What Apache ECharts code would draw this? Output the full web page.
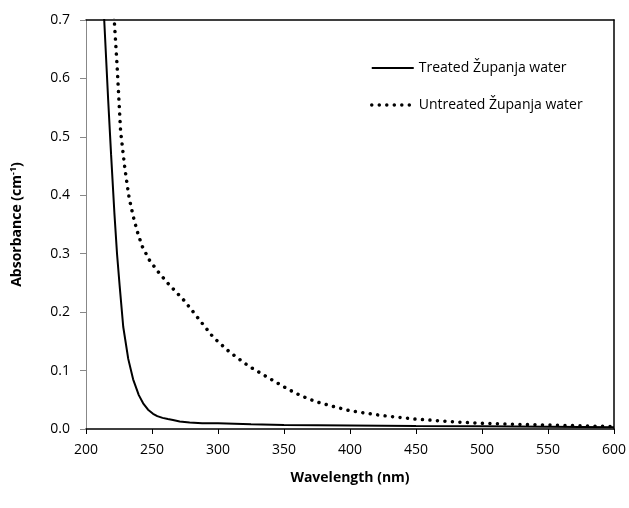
<!DOCTYPE html>
<html>
<head>
<meta charset="utf-8">
<script src="https://cdn.jsdelivr.net/npm/echarts@6/dist/echarts.min.js"></script>
<style>
html,body{margin:0;padding:0;background:#fff;}
#chart{width:629px;height:508px;}
</style>
</head>
<body>
<div id="chart"></div>
<script>
var seriesNames = ['Treated Županja water', 'Untreated Županja water'];
var treatedWl = [212, 213.8, 216.8, 219, 221.5, 223.5, 225.5, 228.2, 232, 235.7, 240, 243.3, 247, 250.8, 254, 258, 262, 265.9, 271, 278.5, 288, 300, 325, 350, 400, 450, 500, 550, 600];
var treatedAbs = [0.78, 0.70, 0.563, 0.47, 0.37, 0.30, 0.245, 0.175, 0.12, 0.085, 0.058, 0.044, 0.033, 0.026, 0.022, 0.019, 0.017, 0.0154, 0.013, 0.011, 0.010, 0.0097, 0.008, 0.0068, 0.006, 0.005, 0.0045, 0.004, 0.003];
var untreatedWl = [219.5, 221.4, 223.6, 226.2, 229.5, 232.7, 236, 239, 242.5, 248.3, 255, 262.6, 274.7, 285.5, 296.4, 309.2, 323, 337.9, 353.2, 362.8, 374, 390, 400.5, 424.4, 449.6, 477.2, 500, 525, 550, 575, 600];
var untreatedAbs = [0.77, 0.70, 0.62, 0.51, 0.445, 0.395, 0.362, 0.337, 0.313, 0.288, 0.268, 0.248, 0.219, 0.188, 0.157, 0.131, 0.108, 0.088, 0.068, 0.057, 0.047, 0.037, 0.031, 0.023, 0.017, 0.0125, 0.0097, 0.008, 0.0068, 0.0055, 0.004];
var xTicks = [200, 250, 300, 350, 400, 450, 500, 550, 600];
var yTicks = [0.0, 0.1, 0.2, 0.3, 0.4, 0.5, 0.6, 0.7];

function pairs(xs, ys){ return xs.map(function(x,i){ return [x, ys[i]]; }); }

var FONT = '"Open Sans", sans-serif';
var chart = echarts.init(document.getElementById('chart'), null, {renderer:'canvas'});
chart.setOption({
  animation:false,
  backgroundColor:'#fff',
  textStyle:{fontFamily:FONT},
  grid:{left:86, right:13, top:20, bottom:79, containLabel:false},
  legend:{
    show:true,
    orient:'vertical', left:365, top:56, itemWidth:42, itemHeight:12, itemGap:23,
    itemStyle:{opacity:0},
    textStyle:{fontFamily:FONT, fontSize:14, color:'#000'},
    data:[
      {name:seriesNames[0], lineStyle:{width:2, color:'#000'}},
      {name:seriesNames[1], lineStyle:{width:3.5, color:'#000', type:[0.01, 7.5], cap:'round'}}
    ]
  },
  xAxis:[{
    type:'value', min:xTicks[0], max:xTicks[xTicks.length-1], interval:50,
    name:'Wavelength (nm)', nameLocation:'middle', nameGap:42,
    nameTextStyle:{fontFamily:FONT, fontSize:14, fontWeight:'bold', color:'#000'},
    axisLine:{onZero:false, lineStyle:{color:'#000', width:1.5}},
    axisTick:{show:true, length:5, lineStyle:{color:'#000'}},
    axisLabel:{fontFamily:FONT, fontSize:14, color:'#000', margin:14},
    splitLine:{show:false}
  },{
    type:'value', position:'top', min:200, max:600,
    axisLine:{show:true, onZero:false, lineStyle:{color:'#000', width:1.5}},
    axisTick:{show:false}, axisLabel:{show:false}, splitLine:{show:false}
  }],
  yAxis:[{
    type:'value', min:yTicks[0], max:yTicks[yTicks.length-1], interval:0.1,
    name:'{b|Absorbance (cm}{s|-1}{b|)}', nameLocation:'middle', nameGap:60,
    nameTextStyle:{rich:{
      b:{fontFamily:FONT, fontSize:14, fontWeight:'bold', color:'#000'},
      s:{fontFamily:FONT, fontSize:9, fontWeight:'bold', color:'#000', verticalAlign:'top', padding:[0,0,8,0]}
    }},
    axisLine:{show:true, onZero:false, lineStyle:{color:'#888', width:1}},
    axisTick:{show:true, length:6, lineStyle:{color:'#888'}},
    axisLabel:{fontFamily:FONT, fontSize:14, color:'#000', margin:16, formatter:function(v){return v.toFixed(1);}},
    splitLine:{show:false}
  },{
    type:'value', position:'right', min:0, max:0.7,
    axisLine:{show:true, onZero:false, lineStyle:{color:'#000', width:1.5}},
    axisTick:{show:false}, axisLabel:{show:false}, splitLine:{show:false}
  }],
  series:[{
    name:seriesNames[0], type:'line', data:pairs(treatedWl, treatedAbs),
    showSymbol:false, symbol:'none', smooth:false, clip:true,
    lineStyle:{color:'#000', width:2}, itemStyle:{color:'#000'}
  },{
    name:seriesNames[1], type:'line', data:pairs(untreatedWl, untreatedAbs),
    showSymbol:false, symbol:'none', smooth:false, clip:true,
    lineStyle:{color:'#000', width:3.5, type:[0.01, 7.5], cap:'round'}, itemStyle:{color:'#000'}
  }]
});
</script>
</body>
</html>
